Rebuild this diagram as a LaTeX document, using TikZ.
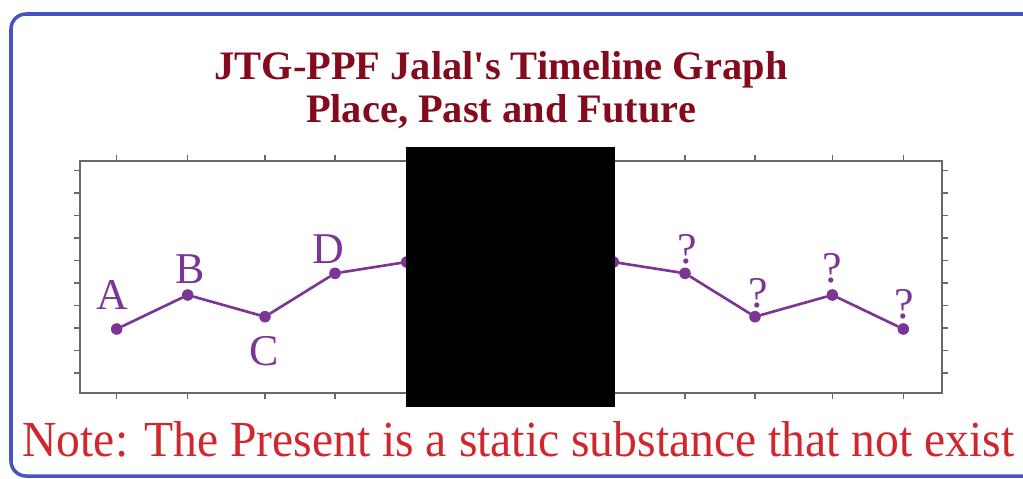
\documentclass[tikz,border=0pt]{standalone}
\usepackage{fontspec}
\setmainfont{Liberation Serif}
\definecolor{frameblue}{RGB}{70,84,192}
\definecolor{titlered}{RGB}{132,10,30}
\definecolor{noterred}{RGB}{208,38,45}
\definecolor{plotpurple}{RGB}{123,53,148}
\definecolor{axisgray}{RGB}{105,105,105}
\begin{document}
\begin{tikzpicture}[x=0.2mm, y=-0.2mm,
    frame/.style={draw=frameblue, line width=2pt, rounded corners=3mm},
    axis box/.style={draw=axisgray, line width=1pt},
    axis tick/.style={draw=axisgray, line width=0.6pt},
    data point/.style={circle, fill=plotpurple, inner sep=0pt, minimum size=6.6pt},
    trend/.style={draw=plotpurple, line width=1.5pt, line cap=round},
    point label/.style={text=plotpurple, font=\fontsize{25}{25}\selectfont,
        inner sep=0pt, anchor=base},
    heading/.style={text=titlered, font=\bfseries\fontsize{23}{23}\selectfont,
        inner sep=0pt, anchor=base},
    remark/.style={text=noterred, font=\fontsize{27.1}{27.1}\selectfont,
        inner sep=0pt, anchor=base, yscale=1.06}
]
    \useasboundingbox (0,0) rectangle (1023,478);
    \clip (0,0) rectangle (1023,478);

    % Outer frame, cut by the page on the right.
    \draw[frame] (11,14) rectangle (1045,476);

    % Title.
    \node[heading] (title) at (501,79) {JTG-PPF Jalal\textquotesingle s Timeline Graph};
    \node[heading] (subtitle) at (501,122) {Place, Past and Future};

    % Plot area with its ticks.
    \draw[axis box] (80,161) rectangle (942,393);
    \foreach \tx in {116.7,187.7,265,335,685,755,832.3,903.3} {
        \draw[axis tick] (\tx,161) -- (\tx,155);
        \draw[axis tick] (\tx,393) -- (\tx,399);
    }
    \foreach \ty in {170.5,193,215.5,238,260.5,283,305.5,328,350.5,373} {
        \draw[axis tick] (80,\ty) -- (74,\ty);
        \draw[axis tick] (942,\ty) -- (948,\ty);
    }

    % The past.
    \node[data point] (pA) at (116.7,329) {};
    \node[data point] (pB) at (187.7,295) {};
    \node[data point] (pC) at (265,316.7) {};
    \node[data point] (pD) at (335,273.3) {};
    \node[data point] (pE) at (406.7,262) {};
    \draw[trend] (pA) -- (pB) -- (pC) -- (pD) -- (pE);

    % The future.
    \node[data point] (fA) at (613.3,262) {};
    \node[data point] (fB) at (685,273.3) {};
    \node[data point] (fC) at (755,316.7) {};
    \node[data point] (fD) at (832.3,295) {};
    \node[data point] (fE) at (903.3,329) {};
    \draw[trend] (fA) -- (fB) -- (fC) -- (fD) -- (fE);

    \node[point label] (lA) at (112,309) {A};
    \node[point label] (lB) at (190,283) {B};
    \node[point label] (lC) at (264,365) {C};
    \node[point label] (lD) at (328,263) {D};
    \node[point label] (qB) at (687,263) {?};
    \node[point label] (qC) at (758,307) {?};
    \node[point label] (qD) at (832,282) {?};
    \node[point label] (qE) at (904,318) {?};

    % The present, blacked out.
    \fill[black] (405.7,147) rectangle (615,407);

    \node[remark] (note) at (518.5,456) {Note: The Present is a static substance that not exist};
\end{tikzpicture}
\end{document}
